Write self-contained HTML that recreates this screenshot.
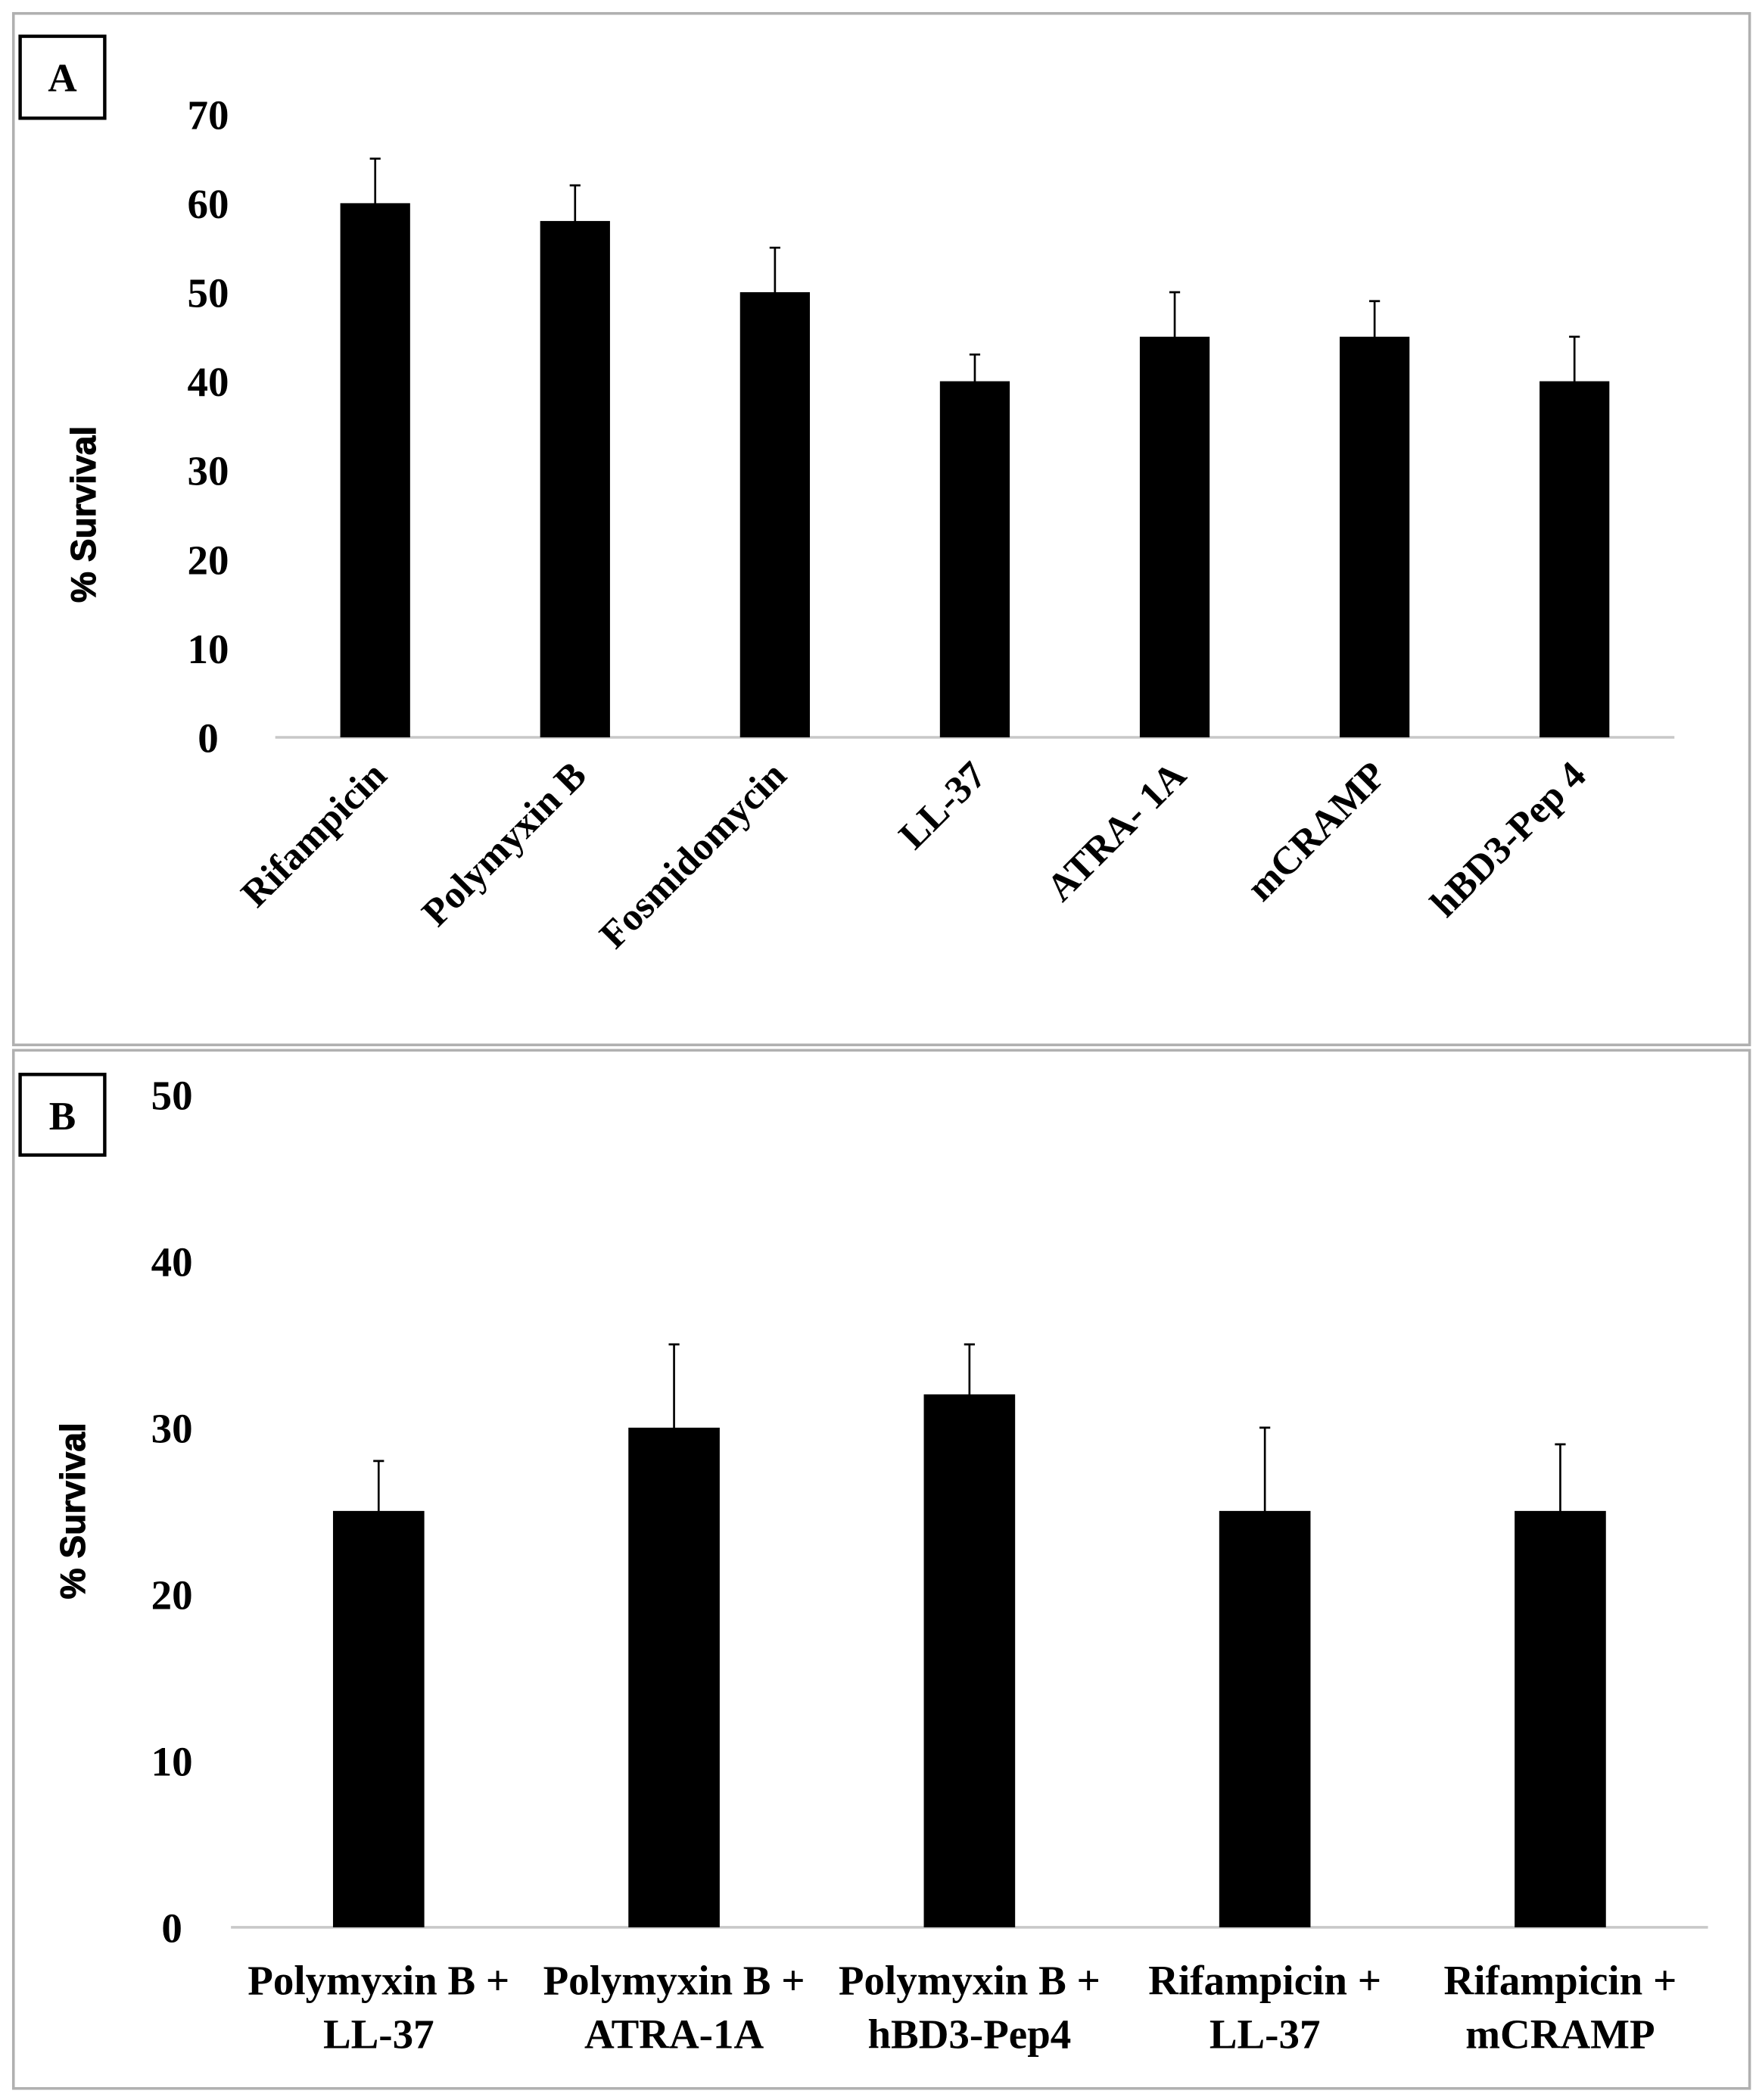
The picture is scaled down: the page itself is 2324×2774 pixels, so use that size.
<!DOCTYPE html>
<html><head><meta charset="utf-8"><style>
html,body{margin:0;padding:0;background:#fff;}
svg{display:block;}
text{font-family:"Liberation Serif",serif;font-weight:bold;fill:#000;}
.yt{font-family:"Liberation Sans",sans-serif;font-weight:900;}
</style></head><body>
<svg id="fig" width="2324" height="2774" viewBox="0 0 1310 1563.6" preserveAspectRatio="none" xmlns="http://www.w3.org/2000/svg">
<rect x="0" y="0" width="1310" height="1563.6" fill="#fff"/>
<rect x="10" y="10" width="1293" height="768" fill="none" stroke="#b0b0b0" stroke-width="2"/>
<rect x="10" y="782" width="1293" height="773" fill="none" stroke="#b0b0b0" stroke-width="2"/>
<rect x="15" y="27" width="63" height="61" fill="none" stroke="#000" stroke-width="2.5"/>
<text x="46.5" y="68" font-size="30" text-anchor="middle">A</text>
<rect x="15" y="800" width="63" height="60" fill="none" stroke="#000" stroke-width="2.5"/>
<text x="46.5" y="841" font-size="30" text-anchor="middle">B</text>
<text class="yt" transform="translate(71,383) rotate(-90)" font-size="26" text-anchor="middle" stroke="#000" stroke-width="0.6">% Survival</text>
<text class="yt" transform="translate(63,1125) rotate(-90)" font-size="26" text-anchor="middle" stroke="#000" stroke-width="0.6">% Survival</text>
<g id="ga"></g>
<g id="gb"></g>
</svg>
<script>
const catsA=["Rifampicin","Polymyxin B","Fosmidomycin","LL-37","ATRA- 1A","mCRAMP","hBD3-Pep 4"];
const valsA=[60,58,50,40,45,45,40];
const errA=[5,4,5,3,5,4,5];
const ticksA=[0,10,20,30,40,50,60,70];
const catsB=[["Polymyxin B +","LL-37"],["Polymyxin B +","ATRA-1A"],["Polymyxin B +","hBD3-Pep4"],["Rifampicin +","LL-37"],["Rifampicin +","mCRAMP"]];
const valsB=[25,30,32,25,25];
const errB=[3,5,3,5,4];
const ticksB=[0,10,20,30,40,50];
const NS="http://www.w3.org/2000/svg";
function mk(p,t,a){const e=document.createElementNS(NS,t);for(const k in a)e.setAttribute(k,a[k]);p.appendChild(e);return e;}
function draw(g,cfg){
  const {cats,vals,errs,ticks,x0,x1,y0,y1,ymax,bw,tx,fs,pfx}=cfg;
  const ys=v=>y0-(v/ymax)*(y0-y1);
  const step=(x1-x0)/cats.length;
  const xs=i=>x0+step*(i+0.5);
  ticks.forEach(t=>{const e=mk(g,'text',{x:tx,y:ys(t)+11,'font-size':fs,'text-anchor':'middle'});e.textContent=t;
    
    });
  const ax=mk(g,'line',{x1:x0,x2:x1,y1:y0,y2:y0,stroke:'#c8c8c8','stroke-width':2});
  
  
  vals.forEach((v,i)=>{
    const cx=xs(i);
    const r=mk(g,'rect',{x:cx-bw/2,y:ys(v),width:bw,height:y0-ys(v),fill:'#000'});
    
    
    const eb=mk(g,'path',{d:`M${cx},${ys(v+errs[i])}V${ys(v-errs[i])}M${cx-4},${ys(v+errs[i])}H${cx+4}M${cx-4},${ys(v-errs[i])}H${cx+4}`,stroke:'#000','stroke-width':1.5,fill:'none'});
    
    
    cfg.label(g,cats[i],cx,y0,i);
  });
}
draw(document.getElementById('ga'),{cats:catsA,vals:valsA,errs:errA,ticks:ticksA,x0:205,x1:1247,y0:549,y1:85,ymax:70,bw:52,tx:155,fs:31,pfx:'panel-a',
  label:(g,c,cx,y0,i)=>{const e=mk(g,'text',{transform:`translate(${cx+10},${y0+30}) rotate(-45)`,'font-size':29,'text-anchor':'end'});e.textContent=c;
    
    }});
draw(document.getElementById('gb'),{cats:catsB,vals:valsB,errs:errB,ticks:ticksB,x0:172,x1:1272,y0:1435,y1:815,ymax:50,bw:68,tx:128,fs:31,pfx:'panel-b',
  label:(g,c,cx,y0,i)=>{c.forEach((l,j)=>{const e=mk(g,'text',{x:cx,y:y0+50+j*40,'font-size':31,'text-anchor':'middle'});e.textContent=l;
    
    });}});
</script>
</body></html>
